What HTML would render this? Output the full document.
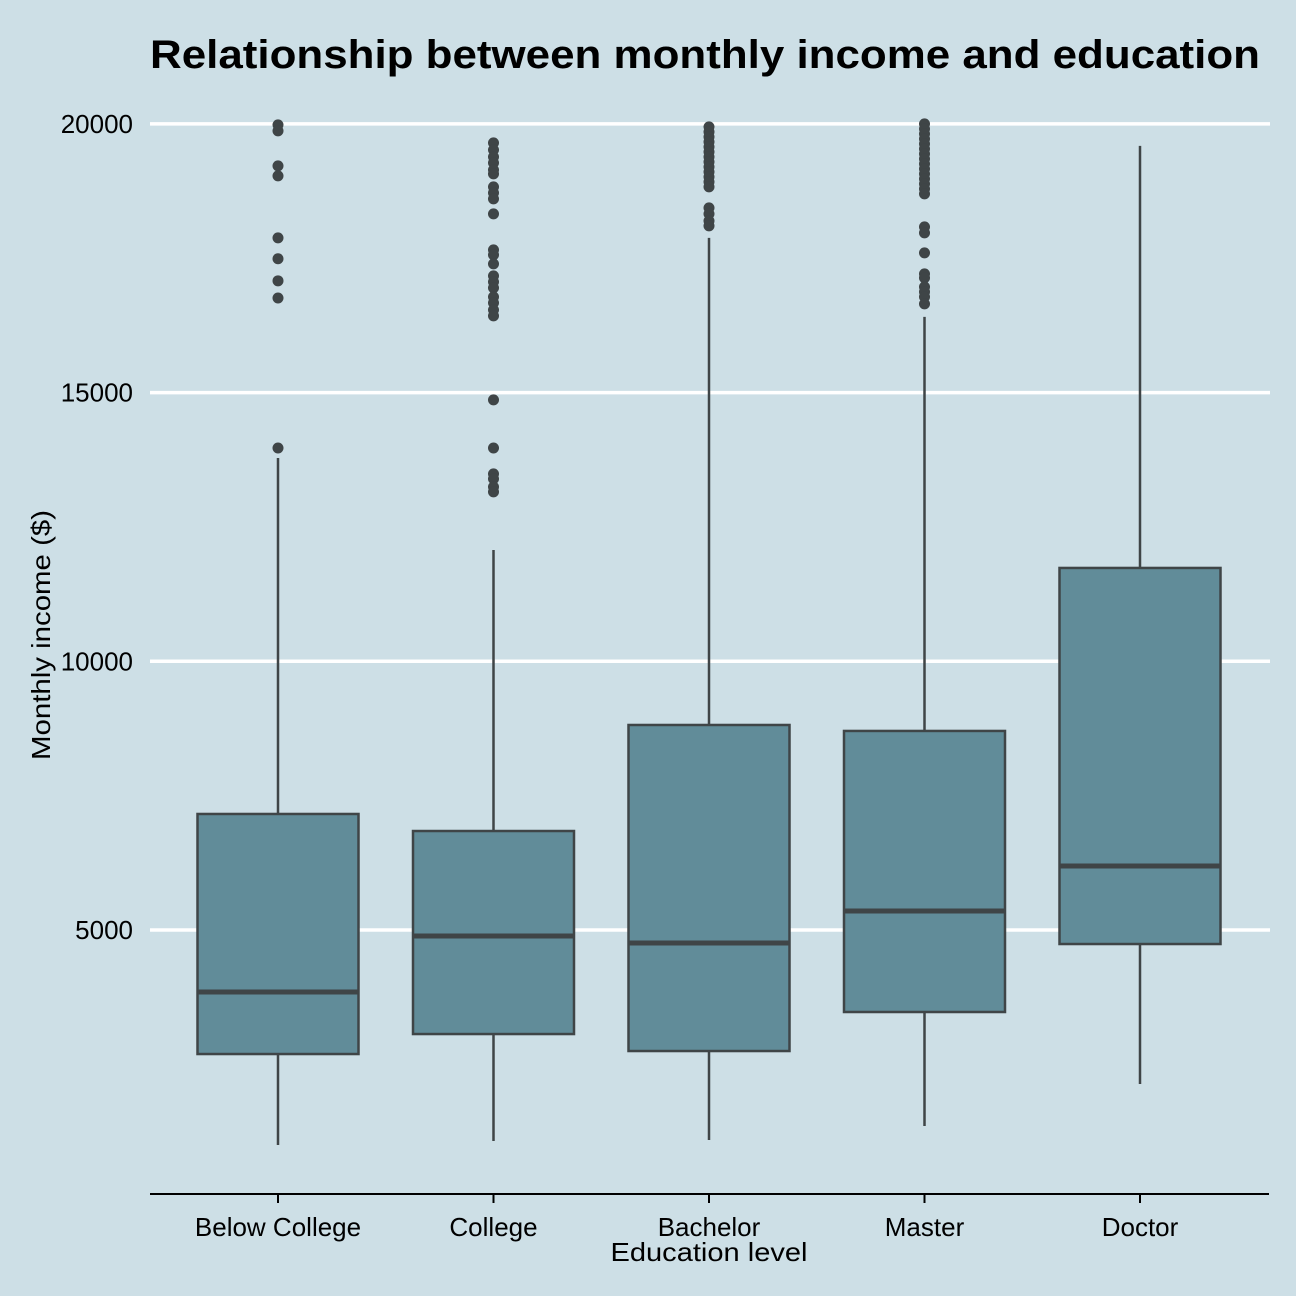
<!DOCTYPE html>
<html><head><meta charset="utf-8"><style>
body{margin:0;background:#cddfe6;}
svg{display:block;font-family:"Liberation Sans",Arial,sans-serif;}
</style></head><body>
<svg id="chart" width="1296" height="1296">
<rect width="1296" height="1296" fill="#cddfe6"/>
<text x="705" y="68" text-anchor="middle" font-size="40" font-weight="bold" fill="#000" textLength="1110" lengthAdjust="spacingAndGlyphs">Relationship between monthly income and education</text>
<g id="grid"></g><g id="boxes"></g><g id="axes"></g>
<text x="709" y="1261" text-anchor="middle" font-size="26" fill="#000" textLength="197" lengthAdjust="spacingAndGlyphs">Education level</text>
<text transform="translate(50,635) rotate(-90)" text-anchor="middle" font-size="26" fill="#000" textLength="250" lengthAdjust="spacingAndGlyphs">Monthly income ($)</text>
</svg>
<script>
const categories=["Below College","College","Bachelor","Master","Doctor"];
const q1=[2692,3064,2748,3474,4739];
const medians=[3846,4888,4758,5354,6191];
const q3=[7159,6842,8815,8704,11737];
const whiskLow=[999,1073,1092,1352,2134];
const whiskHigh=[13784,12072,17879,16409,19591];
const outliers=[
[19982,19870,19219,19033,17880,17490,17080,16760,13970],
[19647,19517,19387,19275,19144,19070,18828,18716,18605,18326,17656,17563,17395,17172,17060,16948,16781,16669,16539,16427,14864,13970,13487,13394,13245,13152],
[19945,19852,19759,19666,19573,19480,19387,19294,19200,19107,19014,18921,18828,18437,18326,18195,18102],
[20001,19908,19815,19722,19629,19536,19443,19350,19257,19164,19070,18977,18884,18791,18698,18084,17972,17600,17210,17135,16967,16874,16781,16651],
[]
];
const yTicks=[5000,10000,15000,20000];
const NS="http://www.w3.org/2000/svg";
function y(v){return 930+(5000-v)*268.7/5000;}
function x(i){return 278+i*215.5;}
const halfW=80.5;
function mk(tag,attrs,parent){const e=document.createElementNS(NS,tag);for(const k in attrs)e.setAttribute(k,attrs[k]);parent.appendChild(e);return e;}
const grid=document.getElementById('grid'),boxes=document.getElementById('boxes'),axes=document.getElementById('axes');
yTicks.forEach(t=>{
 const l=mk('line',{x1:150,x2:1270,y1:y(t),y2:y(t),stroke:'#fff','stroke-width':3.5},grid);
 
 
 const tx=mk('text',{x:133,y:y(t)+9,'text-anchor':'end','font-size':26,fill:'#000'},grid);
 tx.textContent=t;
 
 
});
categories.forEach((c,i)=>{
 const g=mk('g',{},boxes);
 
 
 const cx=x(i);
 mk('line',{x1:cx,x2:cx,y1:y(whiskHigh[i]),y2:y(q3[i]),stroke:'#3f4547','stroke-width':2.5},g);
 mk('line',{x1:cx,x2:cx,y1:y(q1[i]),y2:y(whiskLow[i]),stroke:'#3f4547','stroke-width':2.5},g);
 mk('rect',{x:cx-halfW,y:y(q3[i]),width:2*halfW,height:y(q1[i])-y(q3[i]),fill:'#618c99',stroke:'#3f4547','stroke-width':2.5},g);
 mk('line',{x1:cx-halfW,x2:cx+halfW,y1:y(medians[i]),y2:y(medians[i]),stroke:'#3f4547','stroke-width':5},g);
 outliers[i].forEach(v=>{
  const p=mk('circle',{cx:cx,cy:y(v),r:5.5,fill:'#3f4547'},g);
  
  
 });
 const tk=mk('line',{x1:cx,x2:cx,y1:1194,y2:1203,stroke:'#000','stroke-width':2},axes);
 
 
 const lb=mk('text',{x:cx,y:1236,'text-anchor':'middle','font-size':26,fill:'#000'},axes);
 lb.textContent=c;
 
 
});
const ax=mk('line',{x1:150,x2:1269,y1:1194,y2:1194,stroke:'#000','stroke-width':2},axes);


</script>
</body></html>
